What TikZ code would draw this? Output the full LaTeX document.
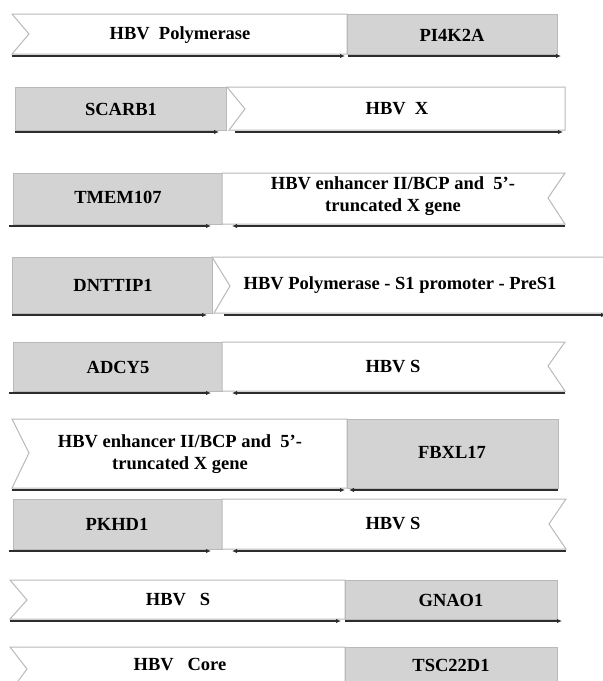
\documentclass[tikz,border=0pt]{standalone}
\usepackage{fontspec}
\setmainfont{Liberation Serif}
\usepackage{tikz}
\usetikzlibrary{arrows.meta}
\definecolor{genegray}{RGB}{211,211,211}
\definecolor{edgegray}{RGB}{185,185,185}
\definecolor{strandcol}{RGB}{45,45,45}

\tikzset{
  hbvbox/.style={draw=edgegray, fill=white, line width=1pt},
  genebox/.style={draw=edgegray, fill=genegray, line width=1pt},
  lbl/.style={font=\bfseries\fontsize{18.5}{22}\selectfont, align=center, inner sep=0pt},
  strand/.style={draw=strandcol, line width=1.5pt, -{Latex[length=5pt,width=4.5pt]}}
}

\begin{document}
\begin{tikzpicture}[x=1pt, y=-1pt]
    \useasboundingbox (0,0) rectangle (603,681);
    \clip (0,0) rectangle (603,681);

    % HBV Polymerase - PI4K2A
    \draw[hbvbox] (12,14) -- (347,14) -- (347,54) -- (12,54) -- (29,34) -- cycle;
    \draw[genebox] (347,14) rectangle (557,54);
    \node[lbl] (pol) at (180,35) {HBV\ \ Polymerase};
    \node[lbl] (pi4k2a) at (452,35) {PI4K2A};
    \coordinate (s1a) at (12,56); \coordinate (s1b) at (345,56);
    \coordinate (s1c) at (348,56); \coordinate (s1d) at (561,56);
    \draw[strand] (s1a) -- (s1b);
    \draw[strand] (s1c) -- (s1d);

    % SCARB1 - HBV X
    \draw[genebox] (15,87) rectangle (226,130);
    \draw[hbvbox] (227,87) -- (565,87) -- (565,130) -- (229,130) -- (245,109) -- cycle;
    \node[lbl] (scarb1) at (121,109) {SCARB1};
    \node[lbl] (hbvx) at (397,109) {HBV\ \ X};
    \coordinate (s2a) at (15,132); \coordinate (s2b) at (219,132);
    \coordinate (s2c) at (235,132); \coordinate (s2d) at (563,132);
    \draw[strand] (s2a) -- (s2b);
    \draw[strand] (s2c) -- (s2d);

    % TMEM107 - HBV enhancer II/BCP
    \draw[genebox] (13,173) rectangle (222,224);
    \draw[hbvbox] (222,173) -- (565,173) -- (548,198) -- (565,224) -- (222,224) -- cycle;
    \node[lbl] (tmem107) at (118,197) {TMEM107};
    \node[lbl] (enh1) at (393,196) {HBV enhancer II/BCP and\ \ 5’-\\truncated X gene};
    \coordinate (s3a) at (9,226); \coordinate (s3b) at (211,226);
    \coordinate (s3c) at (565,226); \coordinate (s3d) at (232,226);
    \draw[strand] (s3a) -- (s3b);
    \draw[strand] (s3c) -- (s3d);

    % DNTTIP1 - HBV Polymerase - S1 promoter - PreS1
    \draw[genebox] (12,257) rectangle (212,313);
    \draw[hbvbox] (212,257) -- (620,257) -- (620,313) -- (214,313) -- (230,286) -- cycle;
    \node[lbl] (dnttip1) at (113,285) {DNTTIP1};
    \node[lbl] (pres1) at (400,285) {HBV Polymerase - S1 promoter - PreS1};
    \coordinate (s4a) at (12,315); \coordinate (s4b) at (207,315);
    \coordinate (s4c) at (224,315); \coordinate (s4d) at (606,315);
    \draw[strand] (s4a) -- (s4b);
    \draw[strand] (s4c) -- (s4d);

    % ADCY5 - HBV S
    \draw[genebox] (13,342) rectangle (222,391);
    \draw[hbvbox] (222,342) -- (565,342) -- (548,366) -- (565,391) -- (222,391) -- cycle;
    \node[lbl] (adcy5) at (118,367) {ADCY5};
    \node[lbl] (hbvs1) at (393,367) {HBV S};
    \coordinate (s5a) at (9,393); \coordinate (s5b) at (211,393);
    \coordinate (s5c) at (565,393); \coordinate (s5d) at (232,393);
    \draw[strand] (s5a) -- (s5b);
    \draw[strand] (s5c) -- (s5d);

    % HBV enhancer II/BCP - FBXL17
    \draw[hbvbox] (12,419) -- (347,419) -- (347,488) -- (12,488) -- (29,453) -- cycle;
    \draw[genebox] (347,419) rectangle (558,488);
    \node[lbl] (enh2) at (180,454) {HBV enhancer II/BCP and\ \ 5’-\\truncated X gene};
    \node[lbl] (fbxl17) at (452,452) {FBXL17};
    \coordinate (s6a) at (12,490); \coordinate (s6b) at (345,490);
    \coordinate (s6c) at (558,490); \coordinate (s6d) at (349,490);
    \draw[strand] (s6a) -- (s6b);
    \draw[strand] (s6c) -- (s6d);

    % PKHD1 - HBV S
    \draw[genebox] (13,499) rectangle (222,549);
    \draw[hbvbox] (222,499) -- (566,499) -- (549,524) -- (566,549) -- (222,549) -- cycle;
    \node[lbl] (pkhd1) at (117,524) {PKHD1};
    \node[lbl] (hbvs2) at (393,524) {HBV S};
    \coordinate (s7a) at (9,551); \coordinate (s7b) at (211,551);
    \coordinate (s7c) at (566,551); \coordinate (s7d) at (232,551);
    \draw[strand] (s7a) -- (s7b);
    \draw[strand] (s7c) -- (s7d);

    % HBV S - GNAO1
    \draw[hbvbox] (10,580) -- (345,580) -- (345,619) -- (10,619) -- (27,600) -- cycle;
    \draw[genebox] (345,580) rectangle (557,619);
    \node[lbl] (hbvs3) at (178,600) {HBV\ \ \ S};
    \node[lbl] (gnao1) at (451,600) {GNAO1};
    \coordinate (s8a) at (10,621); \coordinate (s8b) at (341,621);
    \coordinate (s8c) at (345,621); \coordinate (s8d) at (562,621);
    \draw[strand] (s8a) -- (s8b);
    \draw[strand] (s8c) -- (s8d);

    % HBV Core - TSC22D1
    \draw[hbvbox] (10,647) -- (345,647) -- (345,692) -- (10,692) -- (27,669) -- cycle;
    \draw[genebox] (345,647) rectangle (557,692);
    \node[lbl] (core) at (180,665) {HBV\ \ \ Core};
    \node[lbl] (tsc22d1) at (451,665) {TSC22D1};
\end{tikzpicture}
\end{document}
